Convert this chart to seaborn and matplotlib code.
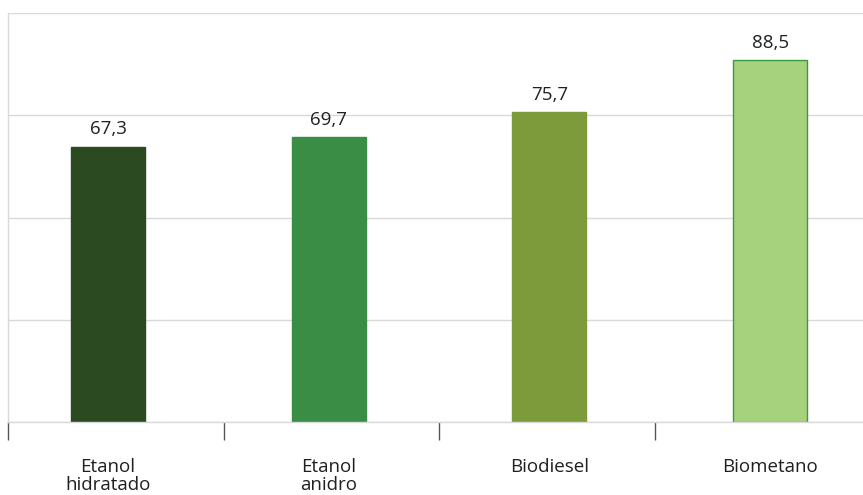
import matplotlib
matplotlib.use("Agg")
import matplotlib.pyplot as plt
import seaborn as sns
import pandas as pd

categories = ["Etanol\nhidratado", "Etanol\nanidro", "Biodiesel", "Biometano"]
values = [67.3, 69.7, 75.7, 88.5]
value_labels = ["67,3", "69,7", "75,7", "88,5"]
bar_colors = ["#2b4a22", "#3a8d45", "#7d9b3a", "#a6d17d"]
edge_colors = ["#2b4a22", "#3a8d45", "#7d9b3a", "#3a9a40"]

sns.set_theme(style="white")
plt.rcParams["font.family"] = ["Open Sans", "DejaVu Sans"]

W, H = 863, 495
fig = plt.figure(figsize=(W / 100, H / 100), dpi=100)
left_px, right_px, top_px, bottom_px = 8, 863, 13, 422
ax = fig.add_axes([left_px / W, (H - bottom_px) / H,
                   (right_px - left_px) / W, (bottom_px - top_px) / H])

df = pd.DataFrame({"cat": categories, "val": values})
sns.barplot(data=df, x="cat", y="val", hue="cat", palette=bar_colors,
            legend=False, width=0.335, ax=ax, saturation=1)

for patch, ec in zip(ax.patches, edge_colors):
    patch.set_edgecolor(ec)
    patch.set_linewidth(1.0)

for i, (v, lab) in enumerate(zip(values, value_labels)):
    ax.annotate(lab, (i, v), xytext=(0, 6), textcoords="offset points",
                ha="center", va="bottom", fontsize=13.5, color="#231f20")

ax.set_xlim(-0.453, 3.421)
ax.set_ylim(0, 100)
ax.set_yticks([0, 25, 50, 75, 100])
ax.set_yticklabels([])
ax.tick_params(axis="y", length=0)
ax.grid(axis="y", color="#d9d9d9", linewidth=1.0)
ax.set_axisbelow(True)

ax.set_xticks(range(len(categories)))
ax.set_xticklabels(categories, fontsize=13.5, color="#231f20", linespacing=1.0)
ax.tick_params(axis="x", which="major", length=0, pad=26)
# divider ticks between the category groups
ax.set_xticks([-0.453, 0.526, 1.500, 2.479], minor=True)
ax.tick_params(axis="x", which="minor", bottom=True, length=13, width=1.0,
               color="#555555", direction="out")
ax.set_xlabel("")
ax.set_ylabel("")

for side in ["top", "right"]:
    ax.spines[side].set_visible(False)
ax.spines["left"].set_color("#d9d9d9")
ax.spines["bottom"].set_color("#d9d9d9")
ax.spines["left"].set_linewidth(1.0)
ax.spines["bottom"].set_linewidth(1.0)

fig.savefig("out.png", dpi=100, facecolor="white")
